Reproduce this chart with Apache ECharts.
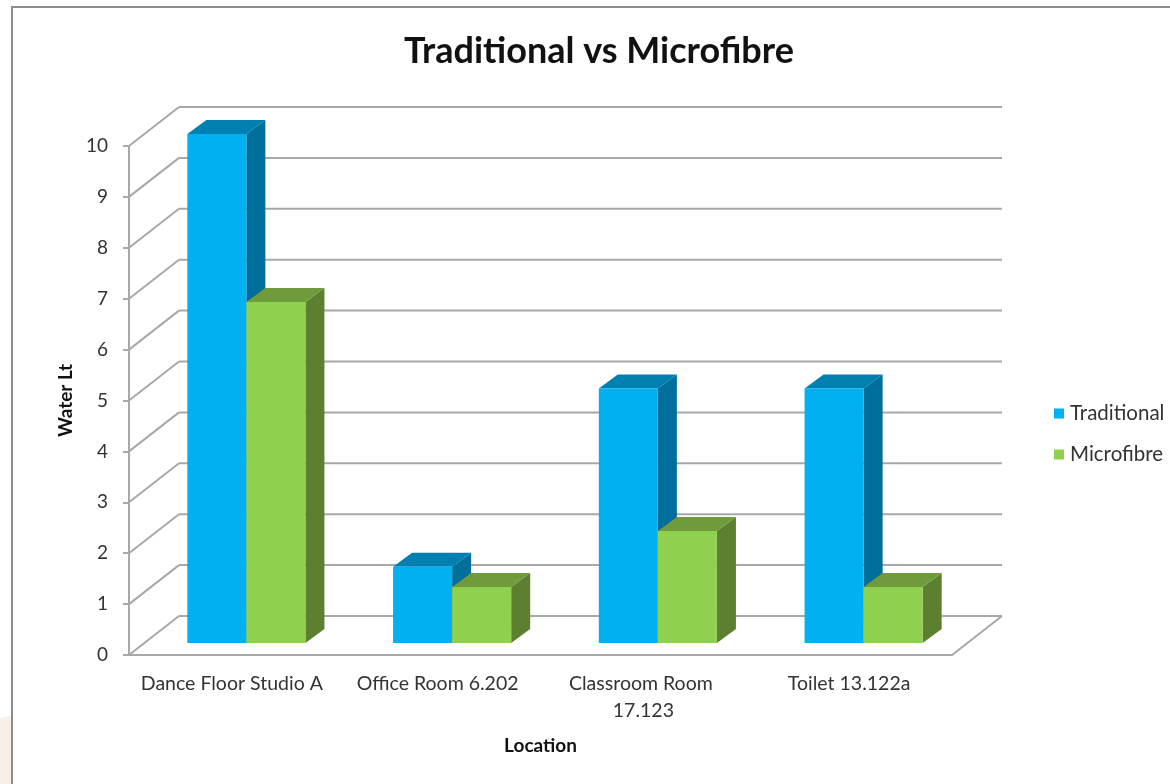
<!DOCTYPE html>
<html>
<head>
<meta charset="utf-8">
<title>Traditional vs Microfibre</title>
<script src="https://cdn.jsdelivr.net/npm/echarts@6/dist/echarts.min.js"></script>
<style>
  html, body { margin: 0; padding: 0; background: #fff; }
  /* the reference is a soft, upscaled screenshot */
  #chart { width: 1170px; height: 784px; filter: blur(0.5px); }
</style>
</head>
<body>
<div id="chart"></div>
<script>
const categories = ['Dance Floor Studio A', 'Office Room 6.202', 'Classroom Room 17.123', 'Toilet 13.122a'];
const traditional = [10, 1.5, 5, 5];
const microfibre = [6.7, 1.1, 2.2, 1.1];
const gridValues = [0, 1, 2, 3, 4, 5, 6, 7, 8, 9, 10];

// fake 3d offsets, in pixels
const WALL_DX = 50, WALL_DY = -39;
const BAR_DX = 14.5, BAR_DY = -12;
const SIDE_DX = 19, SIDE_DY = -14;
const BAR_BAND = 0.287;
const GRID_COLOR = '#a8a8a8';
const TEXT_COLOR = '#333333';
const FONT = 'Lato';

const chart = echarts.init(document.getElementById('chart'));

function poly(points, fill) {
  return { type: 'polygon', shape: { points }, style: { fill } };
}

function gridLine(x1, y1, x2, y2) {
  return {
    type: 'line',
    shape: { x1, y1, x2, y2 },
    style: { stroke: GRID_COLOR, lineWidth: 2 }
  };
}

// back wall and left wall lines, plus the floor edge for value 0
function renderWall(params, api) {
  const y = api.coord([0, api.value(1)])[1];
  const left = params.coordSys.x;
  const right = left + params.coordSys.width;
  const children = [
    gridLine(left, y, left + WALL_DX, y + WALL_DY),
    gridLine(left + WALL_DX, y + WALL_DY, right + WALL_DX, y + WALL_DY)
  ];
  if (api.value(1) === 0) {
    children.push(gridLine(right, y, right + WALL_DX, y + WALL_DY));
  }
  return { type: 'group', children };
}

// side: -1 puts the bar left of the band centre, 0 right of it
function makeBarRenderer(side, front, top, shade) {
  return function (params, api) {
    const top0 = api.coord([api.value(0), api.value(1)]);
    const base0 = api.coord([api.value(0), 0]);
    const w = api.size([1, 0])[0] * BAR_BAND;
    const x1 = top0[0] + BAR_DX + side * w;
    const x2 = x1 + w;
    const yt = top0[1] + BAR_DY;
    const yb = base0[1] + BAR_DY;
    return {
      type: 'group',
      children: [
        poly([[x2, yt], [x2 + SIDE_DX, yt + SIDE_DY], [x2 + SIDE_DX, yb + SIDE_DY], [x2, yb]], shade),
        poly([[x1, yt], [x1 + SIDE_DX, yt + SIDE_DY], [x2 + SIDE_DX, yt + SIDE_DY], [x2, yt]], top),
        poly([[x1, yt], [x2, yt], [x2, yb], [x1, yb]], front)
      ]
    };
  };
}

chart.setOption({
  animation: false,
  backgroundColor: '#fff',
  textStyle: { fontFamily: FONT },
  title: {
    text: 'Traditional vs Microfibre',
    left: 594,
    top: 28,
    textAlign: 'center',
    textStyle: { fontFamily: FONT, fontSize: 36, fontWeight: 'bold', color: '#111111' }
  },
  legend: {
    data: ['Traditional', 'Microfibre'],
    orient: 'vertical',
    left: 1049,
    top: 398,
    itemWidth: 10,
    itemHeight: 10,
    itemGap: 20,
    icon: 'rect',
    textStyle: { fontFamily: FONT, fontSize: 20.5, color: TEXT_COLOR, padding: [0, 0, 0, 1] }
  },
  grid: { left: 129, right: 218, top: 146, bottom: 129 },
  xAxis: {
    type: 'category',
    data: categories,
    name: 'Location',
    nameLocation: 'middle',
    nameGap: 81,
    nameTextStyle: { fontFamily: FONT, fontSize: 19, fontWeight: 'bold', color: '#111111' },
    axisLine: { lineStyle: { color: GRID_COLOR, width: 2 } },
    axisTick: { show: false },
    axisLabel: {
      interval: 0,
      margin: 15,
      width: 195,
      overflow: 'break',
      fontSize: 19.5,
      lineHeight: 27,
      color: TEXT_COLOR
    }
  },
  yAxis: {
    type: 'value',
    min: 0,
    max: 10,
    interval: 1,
    name: 'Water Lt',
    nameLocation: 'middle',
    nameGap: 51,
    nameTextStyle: { fontFamily: FONT, fontSize: 19, fontWeight: 'bold', color: '#111111' },
    axisLine: { show: true, lineStyle: { color: GRID_COLOR, width: 2 } },
    axisTick: { show: true, length: 6, lineStyle: { color: GRID_COLOR, width: 2 } },
    axisLabel: { margin: 21, fontSize: 19, color: TEXT_COLOR, padding: [4, 0, 0, 0] },
    splitLine: { show: false }
  },
  graphic: [
    // peach smudge of the page behind the chart frame
    { type: 'polygon', silent: true, shape: { points: [[0, 718], [11, 716], [11, 784], [0, 784]] }, style: { fill: '#f9efe9' } },
    // chart frame, runs off the right and bottom edges
    { type: 'polyline', silent: true, shape: { points: [[12, 784], [12, 7], [1170, 7]] }, style: { stroke: '#8c8c8c', lineWidth: 2, fill: 'none' } }
  ],
  series: [
    {
      name: 'wall',
      type: 'custom',
      clip: false,
      silent: true,
      renderItem: renderWall,
      encode: { x: 0, y: 1 },
      data: gridValues.map(v => [0, v])
    },
    {
      name: 'Traditional',
      type: 'custom',
      clip: false,
      itemStyle: { color: '#00b0f0' },
      renderItem: makeBarRenderer(-1, '#00b0f0', '#0080b0', '#006f9b'),
      encode: { x: 0, y: 1 },
      data: traditional.map((v, i) => [i, v])
    },
    {
      name: 'Microfibre',
      type: 'custom',
      clip: false,
      itemStyle: { color: '#8fd14f' },
      renderItem: makeBarRenderer(0, '#8fd14f', '#6f9b3c', '#5c802f'),
      encode: { x: 0, y: 1 },
      data: microfibre.map((v, i) => [i, v])
    }
  ]
});
</script>
</body>
</html>
